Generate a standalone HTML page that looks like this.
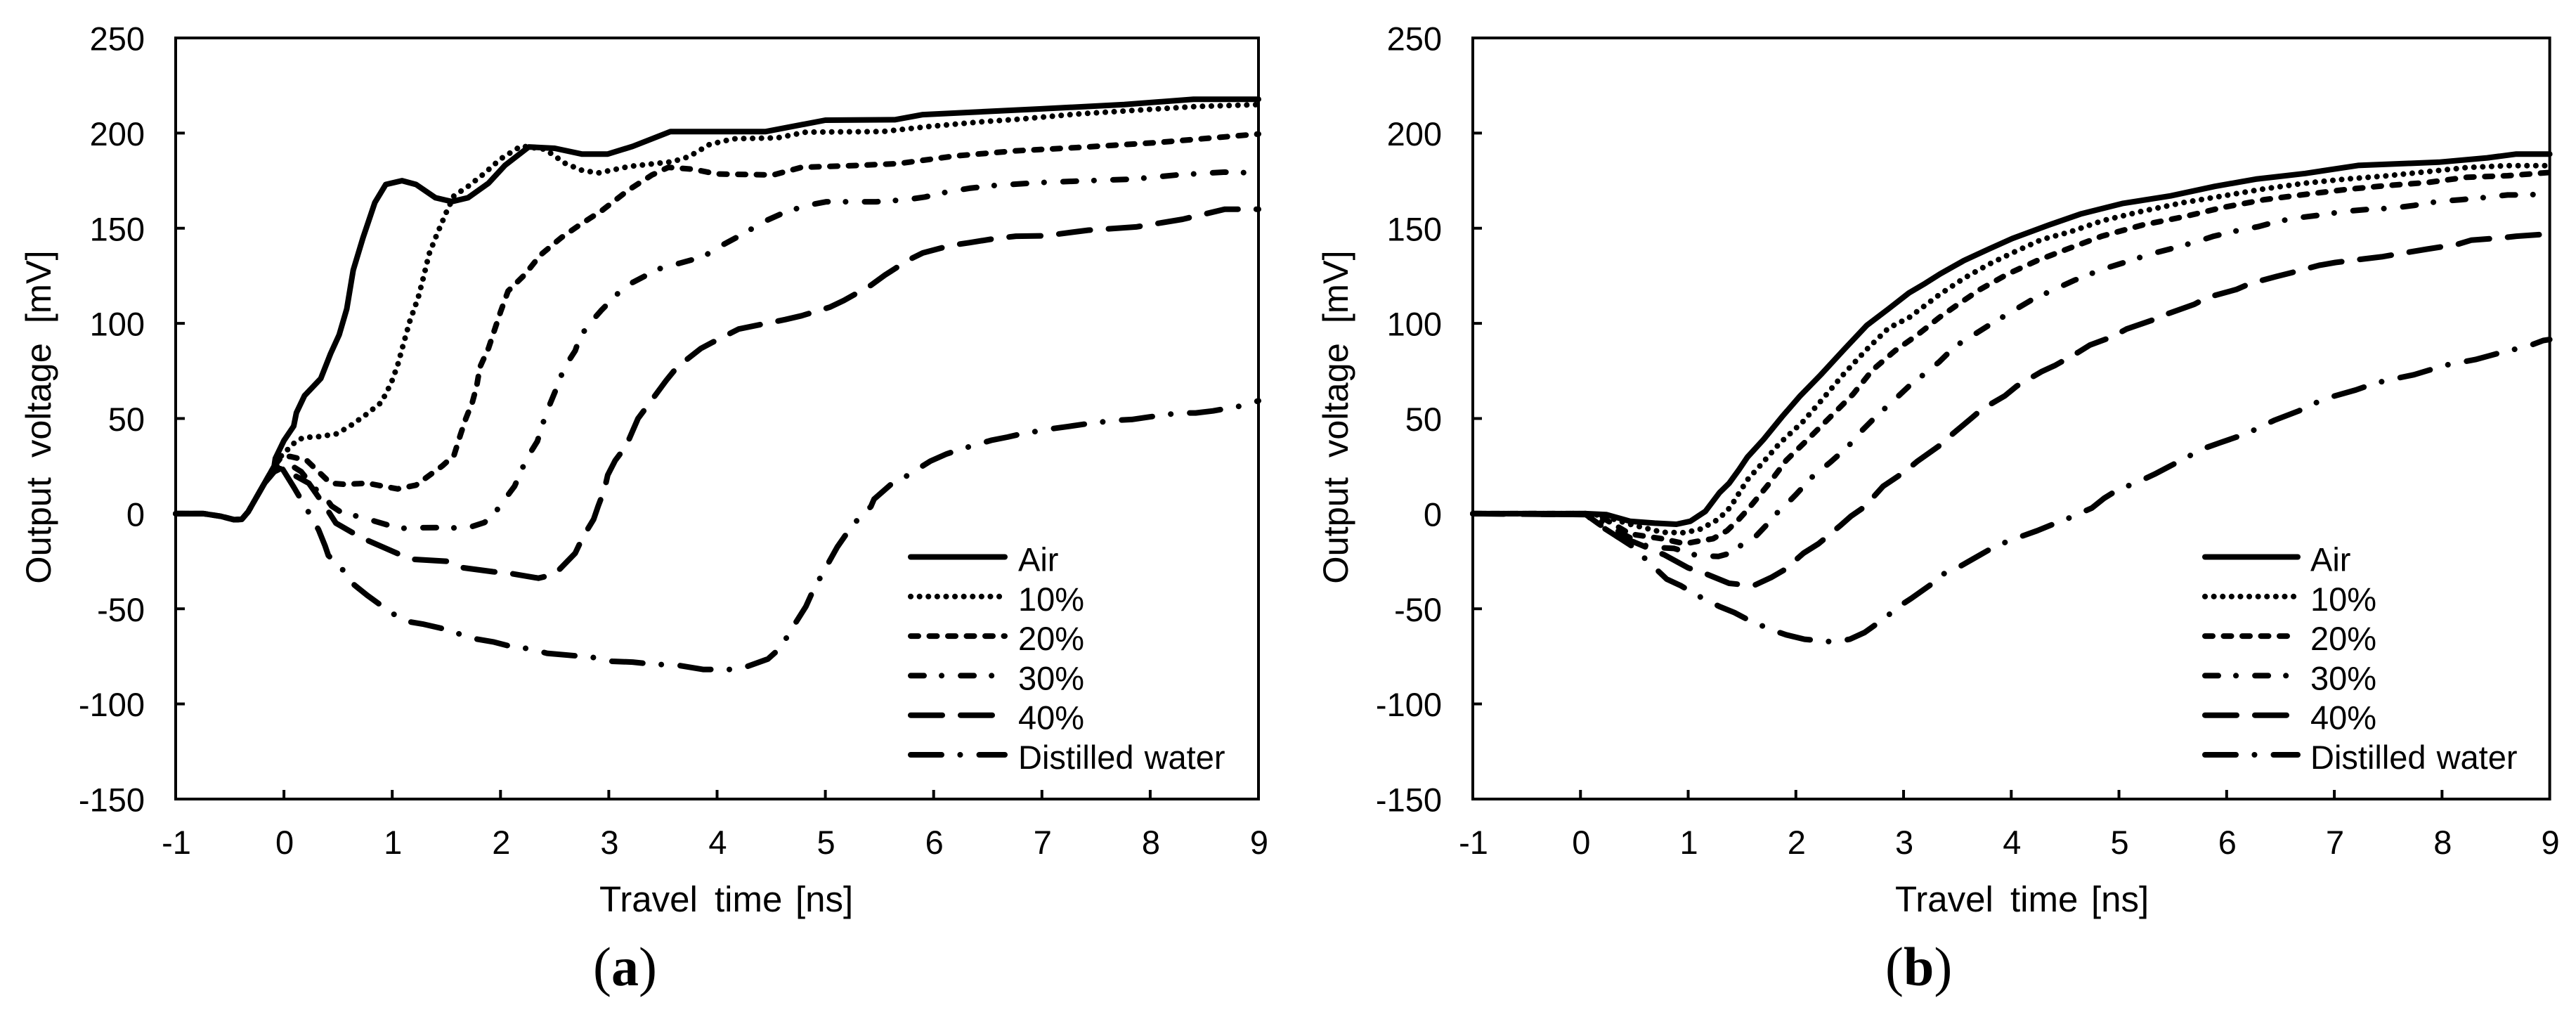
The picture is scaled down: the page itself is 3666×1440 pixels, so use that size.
<!DOCTYPE html>
<html lang="en">
<head>
<meta charset="utf-8">
<title>Output voltage versus travel time</title>
<style>
html,body{margin:0;padding:0;background:#fff;}
svg{display:block;}
text{font-family:"Liberation Sans",sans-serif;fill:#000;white-space:pre;}
.panel-tag{font-family:"Liberation Serif",serif;font-size:78px;}
</style>
</head>
<body>
<svg id="figure" xmlns="http://www.w3.org/2000/svg" width="3666" height="1440" viewBox="0 0 3666 1440"></svg>
<script>
const xTicks = [-1,0,1,2,3,4,5,6,7,8,9];
const yTicks = [250,200,150,100,50,0,-50,-100,-150];
const legendLabels = ['Air','10%','20%','30%','40%','Distilled water'];
const seriesKeys = ['air','ten','twenty','thirty','forty','water'];

const aAir = [[-1,0],[-0.74,0],[-0.58,-1.4],[-0.46,-3.2],[-0.39,-3],[-0.33,1],[-0.18,16],[-0.09,25],[-0.08,29],[0,38.4],[0.09,46],[0.115,53],[0.19,62],[0.34,71],[0.43,84],[0.51,94],[0.58,107.6],[0.64,128],[0.73,145],[0.84,163.5],[0.94,173],[1.09,175],[1.22,173],[1.4,166],[1.55,164],[1.7,166],[1.89,173.7],[2.04,183],[2.26,192.7],[2.5,192],[2.75,189],[2.99,189],[3.22,193],[3.57,200.8],[4.45,200.8],[5,206.8],[5.64,207],[5.9,209.7],[6.98,212.7],[7.76,215],[8.4,217.8],[9,217.8]];
const aTen = [[-1,0],[-0.74,0],[-0.58,-1.4],[-0.46,-3.2],[-0.39,-3],[-0.33,1],[-0.18,16],[-0.09,25],[-0.03,30],[0.04,34],[0.11,38],[0.18,40],[0.33,40.5],[0.49,42],[0.62,46.4],[0.75,51.7],[0.9,58.5],[0.99,68.6],[1.05,78],[1.09,86.4],[1.16,100.8],[1.24,113.6],[1.29,124.6],[1.34,136.4],[1.4,145],[1.5,158.5],[1.57,167],[1.7,172],[1.85,178.8],[2,186.4],[2.19,193.2],[2.41,191.5],[2.6,184],[2.75,180.5],[2.9,179],[3.19,182.5],[3.59,185],[3.74,187.6],[3.93,194],[4.15,197],[4.56,197.5],[4.82,200.5],[5.53,200.8],[5.94,203.4],[6.46,206],[6.79,207.3],[7.32,210],[8.06,212.7],[8.43,214],[9,215]];
const aTwenty = [[-1,0],[-0.74,0],[-0.58,-1.4],[-0.46,-3.2],[-0.39,-3],[-0.33,1],[-0.18,16],[-0.09,25],[-0.02,30],[0.06,30],[0.21,28],[0.32,22],[0.43,16],[0.56,15.4],[0.77,16],[0.92,14.4],[1.05,13],[1.22,15],[1.46,25],[1.57,30.5],[1.63,41.5],[1.68,50],[1.74,58.5],[1.78,67],[1.81,77],[1.89,87],[1.93,94],[2,106],[2.07,117],[2.22,125.4],[2.37,136],[2.56,145],[2.75,152.5],[2.93,159],[3.18,170],[3.4,178],[3.55,182],[3.78,181],[4,178.5],[4.52,178],[4.78,182],[5.3,183],[5.68,184],[6.2,188],[6.76,190.7],[7.32,192.4],[8.06,195],[9,199.5]];
const aThirty = [[-1,0],[-0.74,0],[-0.58,-1.4],[-0.46,-3.2],[-0.39,-3],[-0.33,1],[-0.18,16],[-0.09,24],[-0.02,26],[0.05,26],[0.16,22],[0.23,17],[0.3,12.5],[0.35,11],[0.44,4],[0.56,-0.5],[0.71,-1.5],[0.84,-4],[0.96,-6],[1.1,-7.7],[1.25,-7.4],[1.5,-7.3],[1.68,-7.8],[1.85,-4.7],[1.93,-1],[2.03,6.8],[2.13,14.4],[2.24,28.8],[2.34,38],[2.42,52.5],[2.5,63.6],[2.59,76.8],[2.69,85.6],[2.73,92.4],[2.81,99],[2.93,106.8],[3.12,117.8],[3.22,121.5],[3.46,128.6],[3.66,131.7],[3.87,135],[4.06,141.5],[4.24,147],[4.43,153.4],[4.61,158],[4.82,161.9],[5.01,163.9],[5.25,163.9],[5.47,163.9],[5.75,165],[5.92,166.4],[6.12,169],[6.33,171],[6.55,172.4],[6.98,174],[7.43,175],[7.84,175.8],[8.25,178],[8.69,179.5],[9,179]];
const aForty = [[-1,0],[-0.74,0],[-0.58,-1.4],[-0.46,-3.2],[-0.39,-3],[-0.33,1],[-0.18,16],[-0.09,22],[-0.02,24],[0.1,20],[0.23,16],[0.39,3],[0.48,-5],[0.71,-12.5],[0.85,-16],[1.09,-22],[1.2,-24],[1.5,-25],[1.66,-28.5],[1.93,-30.5],[2.09,-31.4],[2.35,-33.9],[2.5,-31.9],[2.69,-20.8],[2.76,-12.4],[2.86,-3],[2.9,3.7],[2.96,12.7],[2.99,20.3],[3.06,28],[3.16,35.6],[3.27,50],[3.37,57.6],[3.53,70],[3.63,77],[3.85,86.8],[3.98,90.7],[4.2,97],[4.37,99],[4.63,102],[4.78,104],[5.04,108.5],[5.17,112],[5.42,120],[5.55,125.4],[5.77,133.4],[5.9,137],[6.16,141],[6.33,142.4],[6.57,144.6],[6.76,145.8],[7.02,146],[7.43,149],[7.87,150.7],[8.3,154.7],[8.69,160],[9,160]];
const aWater = [[-1,0],[-0.74,0],[-0.58,-1.4],[-0.46,-3.2],[-0.39,-3],[-0.33,1],[-0.18,16],[-0.09,22],[-0.03,25],[0.09,14],[0.24,-0.5],[0.32,-8.5],[0.38,-17],[0.41,-22],[0.56,-30.5],[0.65,-37.5],[0.77,-43],[0.99,-52],[1.12,-56.5],[1.28,-58],[1.55,-61.5],[1.69,-65],[1.94,-67.5],[2.11,-70],[2.27,-71],[2.43,-73.4],[2.69,-74.7],[2.86,-75.6],[3.03,-77.6],[3.22,-78],[3.43,-79.3],[3.6,-79.3],[3.87,-81.9],[4.04,-81.9],[4.2,-81.9],[4.47,-76.4],[4.59,-70.3],[4.67,-62.4],[4.82,-48.8],[4.89,-40],[4.97,-31.9],[5.11,-17.5],[5.2,-10.2],[5.3,-3],[5.42,3.7],[5.45,7.6],[5.61,15.6],[5.75,19.8],[5.97,27.6],[6.12,31.4],[6.27,34.2],[6.53,38.5],[6.68,40.2],[6.81,41.9],[7.09,44.6],[7.24,45.8],[7.39,47],[7.67,49],[7.83,49.5],[7.99,50.8],[8.27,52.9],[8.42,52.9],[8.58,54],[8.86,56.8],[9,59.3]];

const bAir = [[-1,0],[0.05,0],[0.24,-0.5],[0.46,-4],[0.69,-5],[0.89,-5.6],[1.02,-4],[1.16,1.2],[1.29,11],[1.38,16],[1.47,23],[1.55,29.7],[1.7,39],[1.87,50.8],[2.04,61.9],[2.23,72.9],[2.45,86.4],[2.66,99],[2.86,107.6],[3.05,116],[3.2,121],[3.34,126],[3.56,133],[3.79,139],[4.01,144.6],[4.35,151.7],[4.65,157.6],[5.03,163],[5.48,167],[5.89,172],[6.27,175.8],[6.73,178.8],[7.22,183],[7.97,184.7],[8.42,187],[8.69,189],[9,189]];
const bTen = [[-1,0],[0.05,0],[0.2,-1],[0.46,-5.6],[0.76,-9.8],[0.95,-10],[1.1,-8.5],[1.25,-4],[1.36,1.2],[1.42,6],[1.55,17.8],[1.68,26],[1.85,37],[2.06,48],[2.23,59],[2.45,73.7],[2.66,86.4],[2.86,97.5],[3.05,103],[3.33,115],[3.56,123.7],[3.79,131],[4.01,137],[4.28,144],[4.54,148],[4.85,154],[5.22,159],[5.6,163.5],[5.97,167],[6.35,170.7],[6.73,173.7],[7.1,175.8],[7.48,177.5],[7.86,179.7],[8.23,181.9],[8.61,182.9],[9,182.9]];
const bTwenty = [[-1,0],[0.05,0],[0.2,-2],[0.46,-10.7],[0.76,-13.2],[0.97,-15.8],[1.08,-14.6],[1.23,-13.2],[1.36,-9],[1.47,-3],[1.55,2],[1.61,6],[1.74,15],[1.91,28],[2.11,39],[2.32,50.8],[2.53,62.7],[2.71,75.4],[2.92,85.6],[3.13,94],[3.33,103],[3.48,109],[3.71,117.8],[3.97,126],[4.24,133],[4.54,139.5],[4.84,145.8],[5.22,151.7],[5.6,156],[5.97,161],[6.35,165],[6.73,167.8],[7.1,170.3],[7.48,172.4],[7.86,174],[8.23,176.8],[8.61,177.6],[9,179.3]];
const bThirty = [[-1,0],[0.05,0],[0.16,-3],[0.42,-11.5],[0.63,-17.5],[0.87,-18.3],[1.08,-22],[1.28,-22.5],[1.44,-20],[1.49,-16.6],[1.62,-12.4],[1.72,-6.4],[1.79,-1.4],[1.89,3.7],[2,10],[2.16,19.8],[2.32,27],[2.48,35],[2.62,44],[2.75,51.4],[2.9,59],[3.05,67],[3.2,73.7],[3.33,79.7],[3.48,88],[3.67,94.6],[3.82,100],[4.01,106.3],[4.2,112.7],[4.38,117.3],[4.58,122.5],[4.75,126.3],[4.92,129.7],[5.09,132.7],[5.29,136.4],[5.47,139],[5.71,142.7],[5.88,145.8],[6.09,148.6],[6.29,150.8],[6.46,153.4],[6.65,155.4],[6.88,157],[7.09,158.8],[7.33,160],[7.53,160.5],[7.74,162],[7.96,164],[8.18,165],[8.37,166],[8.61,167.5],[8.81,167.5],[9,168.6]];
const bForty = [[-1,0],[0.05,-0.5],[0.16,-5],[0.35,-12.4],[0.5,-15],[0.78,-21.7],[1,-28.5],[1.16,-31.5],[1.38,-36.6],[1.53,-37.5],[1.62,-37.5],[1.77,-33.6],[1.9,-29.3],[2.07,-20.8],[2.21,-15.8],[2.41,-6.4],[2.51,-1.4],[2.64,3.7],[2.81,14.4],[3.01,22],[3.13,27.6],[3.34,36],[3.43,40.7],[3.62,49.7],[3.73,55],[3.94,61.9],[4.05,67],[4.28,74.6],[4.41,78],[4.62,84.7],[4.73,88.6],[4.94,93],[5.07,97],[5.31,101.7],[5.45,105],[5.7,110],[5.82,113.6],[6.09,117.8],[6.22,121],[6.46,124.6],[6.6,126.6],[6.86,130.5],[7.01,132],[7.29,134],[7.44,135],[7.71,137.6],[7.86,139],[8.14,141.5],[8.27,143.7],[8.56,145],[8.69,145.8],[9,147]];
const bWater = [[-1,0],[0.05,-0.5],[0.16,-5.5],[0.35,-12.4],[0.49,-17.5],[0.61,-24.2],[0.8,-34.4],[0.93,-37.8],[1.08,-42.9],[1.29,-48.8],[1.43,-52],[1.55,-55.6],[1.77,-61],[1.91,-63.7],[2.08,-66],[2.36,-67.5],[2.5,-66],[2.64,-62.4],[2.83,-54.7],[2.95,-49],[3.07,-44.6],[3.26,-37],[3.33,-32.7],[3.5,-28.5],[3.71,-21.7],[3.84,-17.5],[3.99,-14],[4.24,-9],[4.37,-6],[4.52,-2.7],[4.75,3],[4.86,8],[4.97,11.9],[5.22,17.8],[5.33,20.7],[5.46,24.6],[5.69,31.4],[5.81,34.7],[5.94,37.3],[6.2,42.4],[6.32,45.8],[6.44,49],[6.67,54],[6.8,57.6],[6.95,61],[7.2,65],[7.34,67.8],[7.48,70],[7.74,73],[7.88,75.4],[8.03,78],[8.31,81],[8.44,83],[8.57,85],[8.8,88],[8.94,91],[9,91.5]];

const NS = 'http://www.w3.org/2000/svg';
const root = document.getElementById('figure');
const dashStyles = {
  air: 'none',
  ten: '0.1 12.5',
  twenty: '11 15.5',
  thirty: '19 25 0.1 27',
  forty: '45 26',
  water: '44 26.4 0.1 27'
};

function make(tag, attrs, parent) {
  const el = document.createElementNS(NS, tag);
  for (const k in attrs) el.setAttribute(k, attrs[k]);
  parent.appendChild(el);
  return el;
}

function drawPanel(cfg, seriesList) {
  const xScale = t => cfg.left + (t - (-1)) * (cfg.right - cfg.left) / 10;
  const yScale = v => cfg.bottom - (v - (-150)) * (cfg.bottom - cfg.top) / 400;

  const g = make('g', {}, root);
  
  

  const frame = make('rect', {x: cfg.left, y: cfg.top, width: cfg.right - cfg.left, height: cfg.bottom - cfg.top, fill: 'none', stroke: '#000', 'stroke-width': 4}, g);
  
  

  xTicks.forEach(function (t) {
    const px = xScale(t);
    if (t > -1 && t < 9) {
      const tick = make('line', {x1: px, x2: px, y1: cfg.bottom, y2: cfg.bottom - 13, stroke: '#000', 'stroke-width': 4}, g);
      
      
    }
    const label = make('text', {x: px + 1, y: 1215, 'text-anchor': 'middle', 'font-size': 47}, g);
    label.textContent = String(t);
    
    
  });

  yTicks.forEach(function (v) {
    const py = yScale(v);
    if (v > -150 && v < 250) {
      const tick = make('line', {x1: cfg.left, x2: cfg.left + 13, y1: py, y2: py, stroke: '#000', 'stroke-width': 4}, g);
      
      
    }
    const label = make('text', {x: cfg.yLabelRight, y: py + 17.5, 'text-anchor': 'end', 'font-size': 47}, g);
    label.textContent = String(v);
    
    
  });

  const xTitle = make('text', {y: 1297, 'font-size': 51}, g);
  
  
  make('tspan', {x: cfg.xTitleX}, xTitle).textContent = 'Travel';
  make('tspan', {x: cfg.xTitleX + 164}, xTitle).textContent = 'time';
  make('tspan', {x: cfg.xTitleX + 279}, xTitle).textContent = '[ns]';

  const yTitle = make('text', {x: 0, y: 0, 'font-size': 50.5, 'text-anchor': 'middle', transform: 'translate(' + cfg.yTitleX + ',593.5) rotate(-90)'}, g);
  yTitle.textContent = 'Output  voltage  [mV]';
  
  

  seriesList.forEach(function (points, i) {
    const key = seriesKeys[i];
    const line = make('polyline', {
      points: points.map(p => xScale(p[0]).toFixed(1) + ',' + yScale(p[1]).toFixed(1)).join(' '),
      fill: 'none', stroke: '#000', 'stroke-width': 8,
      'stroke-linecap': 'round', 'stroke-linejoin': 'round',
      'stroke-dasharray': dashStyles[key]
    }, g);
    
    
  });

  const legend = make('g', {}, g);
  
  
  legendLabels.forEach(function (text, i) {
    const rowY = 792.5 + 56.3 * i;
    const sample = make('line', {
      x1: cfg.legendX1, x2: cfg.legendX2, y1: rowY, y2: rowY,
      stroke: '#000', 'stroke-width': 8, 'stroke-linecap': 'round',
      'stroke-dasharray': dashStyles[seriesKeys[i]]
    }, legend);
    
    
    const label = make('text', {x: cfg.legendTextX, y: rowY + 20, 'font-size': 47, 'word-spacing': 2}, legend);
    label.textContent = text;
    
    
  });

  const tag = make('text', {x: cfg.tagX, y: 1402, 'class': 'panel-tag'}, g);
  
  
  make('tspan', {}, tag).textContent = '(';
  make('tspan', {'font-weight': 'bold'}, tag).textContent = cfg.tagLetter;
  make('tspan', {}, tag).textContent = ')';
}

drawPanel({
  name: 'panel-a', left: 250, right: 1791, top: 54, bottom: 1137,
  yLabelRight: 206, xTitleX: 853, yTitleX: 72,
  legendX1: 1296, legendX2: 1430, legendTextX: 1449,
  tagX: 844, tagLetter: 'a'
}, [aAir, aTen, aTwenty, aThirty, aForty, aWater]);

drawPanel({
  name: 'panel-b', left: 2096, right: 3628.6, top: 54, bottom: 1137,
  yLabelRight: 2052, xTitleX: 2697, yTitleX: 1918,
  legendX1: 3138, legendX2: 3270, legendTextX: 3288,
  tagX: 2683, tagLetter: 'b'
}, [bAir, bTen, bTwenty, bThirty, bForty, bWater]);
</script>
</body>
</html>
